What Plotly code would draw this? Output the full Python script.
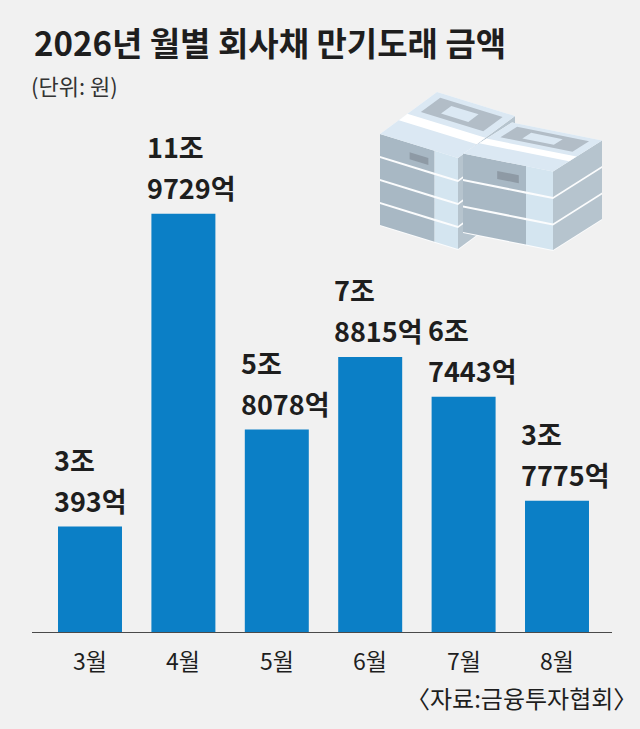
import plotly.graph_objects as go

# ---- data ----
months = ["3월", "4월", "5월", "6월", "7월", "8월"]
amounts_eok = [30393, 119729, 58078, 78815, 67443, 37775]  # 억 원
title_text = "2026년 월별 회사채 만기도래 금액"
unit_text = "(단위: 원)"
source_text = "〈자료:금융투자협회〉"

# ---- style ----
BG = "#f1f1f1"
BAR = "#0b7fc6"
TXT = "#1e1e1e"
FONT = "Noto Sans CJK KR"
W, H = 640, 729
PLOT_H = 633  # plot area height in px (bottom margin = 96)


def fmt(v):
    jo, eok = divmod(v, 10000)
    return f"{jo}조", f"{eok}억"


fig = go.Figure()
fig.add_trace(go.Bar(
    x=list(range(len(months))), y=amounts_eok,
    marker=dict(color=BAR, line=dict(width=0)),
    width=0.685, hoverinfo="skip",
))

annotations = []
for i, (m, v) in enumerate(zip(months, amounts_eok)):
    l1, l2 = fmt(v)
    for txt, ys in ((l1, 67), (l2, 26)):
        annotations.append(dict(
            x=i, y=v, xref="x", yref="y", text=txt, showarrow=False,
            xanchor="left", yanchor="middle", xshift=-38, yshift=ys,
            font=dict(family=FONT, size=27, color=TXT, weight=700),
        ))
    annotations.append(dict(
        x=i, y=0, xref="x", yref="y", text=m, showarrow=False,
        xanchor="center", yanchor="middle", yshift=-27,
        font=dict(family=FONT, size=23, color=TXT),
    ))


def py(y):
    return (PLOT_H - y) / PLOT_H


annotations += [
    dict(x=32 / W, y=py(42), xref="paper", yref="paper", text=title_text,
         showarrow=False, xanchor="left", yanchor="middle",
         font=dict(family=FONT, size=33, color=TXT, weight=700)),
    dict(x=29 / W, y=py(85), xref="paper", yref="paper", text=unit_text,
         showarrow=False, xanchor="left", yanchor="middle",
         font=dict(family=FONT, size=22, color="#333333")),
    dict(x=639 / W, y=py(697), xref="paper", yref="paper", text=source_text,
         showarrow=False, xanchor="right", yanchor="middle",
         font=dict(family=FONT, size=24, color=TXT)),
]

shapes = []
# baseline
shapes.append(dict(type="line", xref="x", yref="y", x0=-0.621, x1=5.589, y0=0, y1=0,
                   line=dict(color="#4a4a4a", width=2)))


# ---- decorative money stacks ----
def P(x, y):
    return f"{x / W:.5f},{py(y):.5f}"


def poly(pts, fill):
    d = "M " + " L ".join(P(x, y) for x, y in pts) + " Z"
    shapes.append(dict(type="path", xref="paper", yref="paper", path=d,
                       fillcolor=fill, line=dict(width=0), layer="above"))


def stack(F, L, R, nlayers, lh, gap=2.2):
    def pt(u, v, z):
        return (F[0] + u * L[0] + v * R[0], F[1] + u * L[1] + v * R[1] - z)
    Ht = nlayers * lh
    # white silhouette (gaps)
    poly([pt(0, 0, 0), pt(1, 0, 0), pt(1, 0, Ht), pt(1, 1, Ht), pt(0, 1, Ht), pt(0, 1, 0)], "#fbfcfd")
    for k in range(nlayers):
        z0 = k * lh + gap / 2
        z1 = (k + 1) * lh - gap / 2
        if k == nlayers - 1:
            z1 = Ht
        # left face
        poly([pt(0.3, 0, z0), pt(1, 0, z0), pt(1, 0, z1), pt(0.3, 0, z1)], "#a8b8c4")
        poly([pt(0, 0, z0), pt(0.3, 0, z0), pt(0.3, 0, z1), pt(0, 0, z1)], "#d4e5f0")
        # right face
        poly([pt(0, 0, z0), pt(0, 1, z0), pt(0, 1, z1), pt(0, 0, z1)], "#b6c4ce")
    # top face
    poly([pt(0, 0, Ht), pt(1, 0, Ht), pt(1, 1, Ht), pt(0, 1, Ht)], "#dbe8f3")
    # design on top
    poly([pt(0.1, 0.58, Ht), pt(0.9, 0.58, Ht), pt(0.9, 0.92, Ht), pt(0.1, 0.92, Ht)], "#b2bdc7")
    poly([pt(0.35, 0.66, Ht), pt(0.7, 0.66, Ht), pt(0.7, 0.84, Ht), pt(0.35, 0.84, Ht)], "#dbe8f3")
    # strap
    poly([pt(0, 0.33, Ht), pt(1, 0.33, Ht), pt(1, 0.48, Ht), pt(0, 0.48, Ht)], "#ffffff")
    # small label on top layer front
    zt0 = (nlayers - 1) * lh + lh * 0.3
    zt1 = (nlayers - 1) * lh + lh * 0.6
    poly([pt(0.38, 0, zt0), pt(0.62, 0, zt0), pt(0.62, 0, zt1), pt(0.38, 0, zt1)], "#8e9aa5")


stack(F=(458, 250), L=(-78, -24), R=(57, -42), nlayers=4, lh=23)
stack(F=(553, 251), L=(-90, -18), R=(49, -31), nlayers=3, lh=26.5)

fig.update_layout(
    width=W, height=H,
    margin=dict(l=0, r=0, t=0, b=H - PLOT_H),
    paper_bgcolor=BG, plot_bgcolor=BG,
    showlegend=False,
    xaxis=dict(range=[-90 / 93.4, 550 / 93.4], showgrid=False, zeroline=False,
               showticklabels=False, showline=False, fixedrange=True),
    yaxis=dict(range=[0, PLOT_H * 285.5], showgrid=False, zeroline=False,
               showticklabels=False, showline=False, fixedrange=True),
    annotations=annotations,
    shapes=shapes,
)

fig.write_html(
    "out.html",
    config={"displayModeBar": False},
    post_script="document.body.style.margin='0';document.body.style.background='#f1f1f1';",
)
